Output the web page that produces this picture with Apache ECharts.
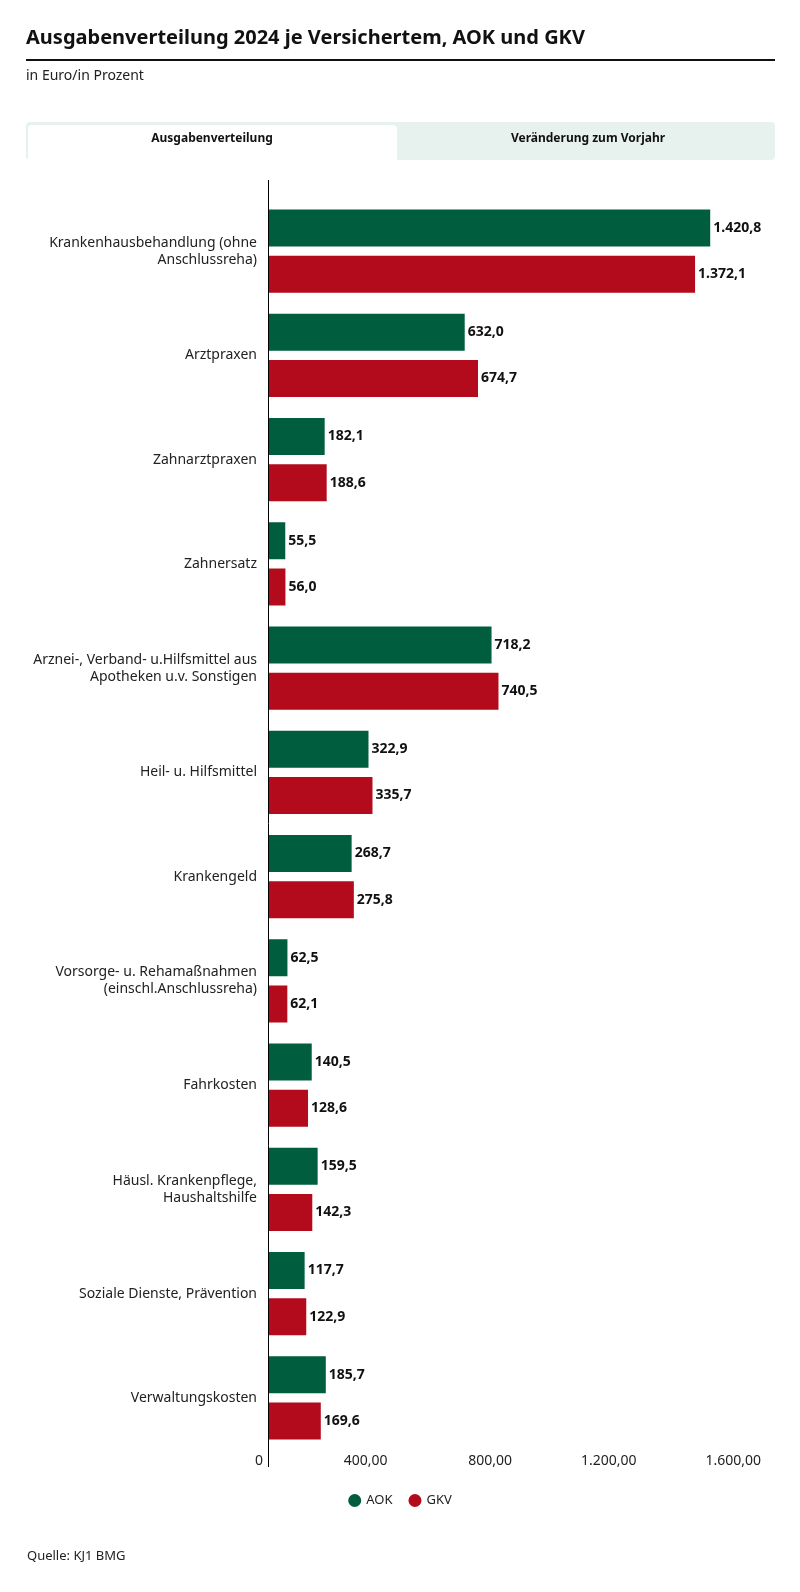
<!DOCTYPE html>
<html>
<head>
<meta charset="utf-8">
<script src="https://cdn.jsdelivr.net/npm/echarts@6/dist/echarts.min.js"></script>
<style>
  html, body { margin: 0; padding: 0; background: #fff; }
  #chart { width: 800px; height: 1592px; }
</style>
</head>
<body>
<div id="chart"></div>
<script>
// Daten
var categories = [
    'Krankenhausbehandlung (ohne\nAnschlussreha)',
    'Arztpraxen',
    'Zahnarztpraxen',
    'Zahnersatz',
    'Arznei-, Verband- u.Hilfsmittel aus\nApotheken u.v. Sonstigen',
    'Heil- u. Hilfsmittel',
    'Krankengeld',
    'Vorsorge- u. Rehamaßnahmen\n(einschl.Anschlussreha)',
    'Fahrkosten',
    'Häusl. Krankenpflege,\nHaushaltshilfe',
    'Soziale Dienste, Prävention',
    'Verwaltungskosten'
];
var aokValues = [1420.8, 632.0, 182.1, 55.5, 718.2, 322.9, 268.7, 62.5, 140.5, 159.5, 117.7, 185.7];
var gkvValues = [1372.1, 674.7, 188.6, 56.0, 740.5, 335.7, 275.8, 62.1, 128.6, 142.3, 122.9, 169.6];
var xTicks = [0, 400, 800, 1200, 1600];

var GREEN = '#005e3f';
var RED = '#b30b1c';
var FONT = '"Noto Sans", sans-serif';

// deutsche Zahlenformatierung
var fmt = function (v, d) {
    var parts = v.toFixed(d).split('.');
    parts[0] = parts[0].replace(/\B(?=(\d{3})+(?!\d))/g, '.');
    return parts.length > 1 ? parts[0] + ',' + parts[1] : parts[0];
};

var myChart = echarts.init(document.getElementById('chart'));

var option = {
    animation: false,
    textStyle: { fontFamily: FONT },
    graphic: [
        { type: 'text', left: 26, top: 28, style: { text: 'Ausgabenverteilung 2024 je Versichertem, AOK und GKV', font: 'bold 20px ' + FONT, fill: '#111' } },
        { type: 'rect', shape: { x: 26, y: 59, width: 749, height: 2 }, style: { fill: '#111' } },
        { type: 'text', left: 26, top: 69, style: { text: 'in Euro/in Prozent', font: '14px ' + FONT, fill: '#222' } },
        // Reiter
        { type: 'rect', shape: { x: 26, y: 122, width: 749, height: 38, r: 4 }, style: { fill: '#e7f2ef' } },
        { type: 'rect', shape: { x: 28, y: 125, width: 369, height: 35, r: [4, 4, 0, 0] }, style: { fill: '#fff' } },
        { type: 'text', x: 212, y: 139, style: { text: 'Ausgabenverteilung', font: 'bold 12px ' + FONT, fill: '#111', align: 'center', verticalAlign: 'middle' } },
        { type: 'text', x: 588, y: 139, style: { text: 'Veränderung zum Vorjahr', font: 'bold 12px ' + FONT, fill: '#111', align: 'center', verticalAlign: 'middle' } },
        // Achsenlinie
        { type: 'line', shape: { x1: 268.5, y1: 180, x2: 268.5, y2: 1467 }, style: { stroke: '#000', lineWidth: 1 }, z: 10 },
        { type: 'text', left: 27, top: 1550, style: { text: 'Quelle: KJ1 BMG', font: '13px ' + FONT, fill: '#222' } }
    ],
    legend: {
        data: ['AOK', 'GKV'],
        left: 'center',
        top: 1489,
        icon: 'circle',
        itemWidth: 13,
        itemHeight: 13,
        itemGap: 16,
        textStyle: { fontSize: 13, color: '#222', fontFamily: FONT }
    },
    grid: {
        left: 268,
        right: 34,
        top: 199,
        height: 1251
    },
    xAxis: {
        type: 'value',
        min: 0,
        max: 1600,
        interval: 400,
        axisLine: { show: false },
        axisTick: { show: false },
        splitLine: { show: false },
        axisLabel: {
            margin: 4,
            align: 'right',
            padding: [0, 5, 0, 0],
            fontSize: 14,
            color: '#222',
            fontFamily: FONT,
            formatter: function (v) {
                return xTicks.indexOf(v) === 0 ? '0' : fmt(v, 2);
            }
        }
    },
    yAxis: {
        type: 'category',
        data: categories,
        inverse: true,
        axisLine: { show: false },
        axisTick: { show: false },
        axisLabel: {
            margin: 11,
            fontSize: 14,
            lineHeight: 17,
            color: '#222',
            fontFamily: FONT
        }
    },
    series: [{
        name: 'AOK',
        type: 'bar',
        data: aokValues,
        barWidth: 37,
        barGap: '25%',
        itemStyle: { color: GREEN },
        label: {
            show: true,
            position: 'right',
            distance: 3,
            fontSize: 14,
            fontWeight: 'bold',
            color: '#111',
            fontFamily: FONT,
            formatter: function (p) { return fmt(p.value, 1); }
        }
    }, {
        name: 'GKV',
        type: 'bar',
        data: gkvValues,
        barWidth: 37,
        itemStyle: { color: RED },
        label: {
            show: true,
            position: 'right',
            distance: 3,
            fontSize: 14,
            fontWeight: 'bold',
            color: '#111',
            fontFamily: FONT,
            formatter: function (p) { return fmt(p.value, 1); }
        }
    }]
};

myChart.setOption(option);
</script>
</body>
</html>
